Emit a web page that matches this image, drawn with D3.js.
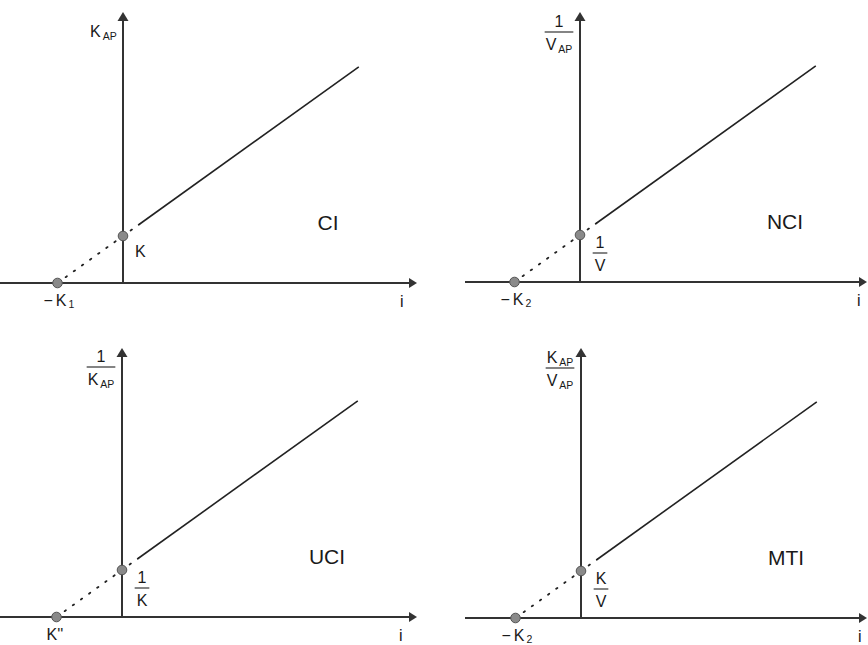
<!DOCTYPE html>
<html>
<head>
<meta charset="utf-8">
<script src="https://cdn.jsdelivr.net/npm/d3@7"></script>
<style>
  html, body { margin: 0; padding: 0; background: #fff; }
  svg text { font-family: "Liberation Sans", Arial, Helvetica, sans-serif; fill: #1a1a1a; }
</style>
</head>
<body>
<svg id="chart" width="868" height="645"></svg>
<script>
// Inhibition types shown, one panel each
const panelNames = ["CI", "NCI", "UCI", "MTI"];
// Abscissa where each line meets the i axis (in units of the intercept constant)
const xIntercepts = [-1, -1, -1, -1];
// Ordinate at i = 0
const yIntercepts = [1, 1, 1, 1];
// i value where each drawn line stops
const lineEnds = [3.6, 3.6, 3.6, 3.6];
// Extrapolated (dotted) section runs from the x intercept up to this i
const solidFrom = [0.25, 0.25, 0.25, 0.25];

// Axis labels: [main, subscript] pairs; fractions as {num, den}
const yAxisLabels = [
  { text: [["K", "AP"]] },
  { num: [["1", ""]], den: [["V", "AP"]] },
  { num: [["1", ""]], den: [["K", "AP"]] },
  { num: [["K", "AP"]], den: [["V", "AP"]] }
];
const yInterceptLabels = [
  { text: [["K", ""]] },
  { num: [["1", ""]], den: [["V", ""]] },
  { num: [["1", ""]], den: [["K", ""]] },
  { num: [["K", ""]], den: [["V", ""]] }
];
const xInterceptLabels = [
  [["\u2212", ""], ["K", "1"]],
  [["\u2212", ""], ["K", "2"]],
  [["K''", ""]],
  [["\u2212", ""], ["K", "2"]]
];
const xAxisTitle = "i";

// Panel frames: origin of each panel's axes and visible axis extent (pixels)
const layout = [
  { ox: 123, oy: 283, left: 0,   right: 417, top: 12 },
  { ox: 580, oy: 282, left: 465, right: 867, top: 12 },
  { ox: 122, oy: 617, left: 0,   right: 417, top: 348 },
  { ox: 581, oy: 618, left: 465, right: 867, top: 348 }
];
const unitX = 65.5, unitY = 47;
const axisColor = "#333";

const svg = d3.select("#chart");

// Writes a sequence of [main, subscript] runs into a text element
function runs(sel, parts, size, subSize, drop) {
  const d = drop === undefined ? 3 : drop;
  parts.forEach(([main, sub], j) => {
    const m = sel.append("tspan").attr("font-size", size).text(main);
    if (j > 0) m.attr("dx", 3);
    if (sub) {
      sel.append("tspan").attr("font-size", subSize).attr("dx", 2).attr("dy", d).text(sub);
      sel.append("tspan").attr("font-size", size).attr("dy", -d).text("");
    }
  });
}

// Label as a plain run or a stacked fraction centred at cx with bar at y
function label(g, spec, cx, y, size, subSize, anchor) {
  if (spec.text) {
    const t = g.append("text").attr("x", cx).attr("y", y).attr("text-anchor", anchor || "start");
    runs(t, spec.text, size, subSize);
    return;
  }
  const num = g.append("text").attr("x", cx).attr("y", y - 5).attr("text-anchor", "middle");
  runs(num, spec.num, size, subSize);
  const den = g.append("text").attr("x", cx).attr("y", y + 18).attr("text-anchor", "middle");
  runs(den, spec.den, size, subSize);
  const w = Math.max(num.node().getComputedTextLength(), den.node().getComputedTextLength());
  g.append("line")
    .attr("x1", cx - w / 2 - 2).attr("x2", cx + w / 2 + 2)
    .attr("y1", y).attr("y2", y)
    .attr("stroke", "#333").attr("stroke-width", 1.2);
}

panelNames.forEach((name, k) => {
  const L = layout[k];
  const x = d3.scaleLinear()
    .domain([(L.left - L.ox) / unitX, (L.right - L.ox) / unitX])
    .range([L.left, L.right]);
  const y = d3.scaleLinear()
    .domain([0, (L.oy - L.top) / unitY])
    .range([L.oy, L.top]);
  const g = svg.append("g");

  const slope = yIntercepts[k] / (0 - xIntercepts[k]);
  const f = i => yIntercepts[k] + slope * i;

  // Axes with arrowheads
  g.append("line")
    .attr("x1", x(x.domain()[0])).attr("x2", x(x.domain()[1]) - 6)
    .attr("y1", y(0)).attr("y2", y(0))
    .attr("stroke", axisColor).attr("stroke-width", 2);
  g.append("line")
    .attr("x1", x(0)).attr("x2", x(0))
    .attr("y1", y(0)).attr("y2", y(y.domain()[1]) + 6)
    .attr("stroke", axisColor).attr("stroke-width", 2);
  const xe = x(x.domain()[1]), ye = y(y.domain()[1]);
  g.append("path")
    .attr("d", `M${xe},${y(0)} L${xe - 8},${y(0) - 5} L${xe - 8},${y(0) + 5} Z`)
    .attr("fill", axisColor);
  g.append("path")
    .attr("d", `M${x(0)},${ye} L${x(0) - 5.5},${ye + 9} L${x(0) + 5.5},${ye + 9} Z`)
    .attr("fill", axisColor);

  // Extrapolated part (dotted) and measured part (solid)
  const line = d3.line().x(d => x(d)).y(d => y(f(d)));
  g.append("path")
    .datum([xIntercepts[k], solidFrom[k]])
    .attr("d", line)
    .attr("fill", "none").attr("stroke", "#222")
    .attr("stroke-width", 1.8).attr("stroke-dasharray", "1.6,8.4")
    .attr("stroke-linecap", "round");
  g.append("path")
    .datum([solidFrom[k], lineEnds[k]])
    .attr("d", line)
    .attr("fill", "none").attr("stroke", "#222").attr("stroke-width", 1.6);

  // Intercept markers
  g.selectAll("circle")
    .data([[xIntercepts[k], 0], [0, yIntercepts[k]]])
    .join("circle")
    .attr("cx", d => x(d[0])).attr("cy", d => y(d[1]))
    .attr("r", 4.8)
    .attr("fill", "#8a8a8a").attr("stroke", "#555").attr("stroke-width", 1);

  // Texts
  const yl = yAxisLabels[k];
  if (yl.text) label(g, yl, x(0) - 33, y(0) - 246, 16, 10.5, "start");
  else label(g, yl, x(0) - 21, y(0) - 250, 16, 10.5);

  const yil = yInterceptLabels[k];
  if (yil.text) label(g, yil, x(0) + 12, y(yIntercepts[k]) + 21, 16, 10.5, "start");
  else label(g, yil, x(0) + 20, y(yIntercepts[k]) + 18, 16, 10.5);

  const hasMinus = xInterceptLabels[k].length > 1;
  const xl = g.append("text")
    .attr("x", x(xIntercepts[k]) - (hasMinus ? 14 : 10))
    .attr("y", y(0) + 23);
  runs(xl, xInterceptLabels[k], 16, 10.5, 2);

  g.append("text").attr("x", x(0) + 277).attr("y", y(0) + 24)
    .attr("font-size", 16).text(xAxisTitle);

  g.append("text").attr("x", x(0) + 205).attr("y", y(0) - 53)
    .attr("text-anchor", "middle").attr("font-size", 21).text(name);
});
</script>
</body>
</html>
